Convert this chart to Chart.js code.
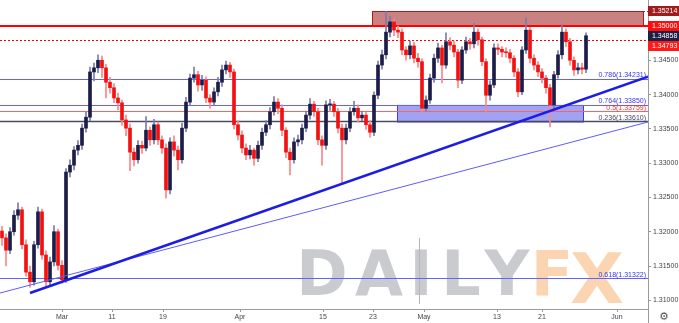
<!DOCTYPE html>
<html>
<head>
<meta charset="utf-8">
<script src="https://cdn.jsdelivr.net/npm/chart.js@4.4.1/dist/chart.umd.min.js"></script>
<style>
  html, body { margin: 0; padding: 0; background: #fff; }
</style>
</head>
<body>
<canvas id="myChart" width="679" height="323"></canvas>
<script>
// half-day candles, price path
const firstOpen = 1.3201;
const closes = [
    1.3191, 1.3173, 1.3200, 1.3224, 1.3232, 1.3181, 1.3141, 1.3127, 1.3181, 1.3229,
    1.3166, 1.3127, 1.3156, 1.3200, 1.3151, 1.3130, 1.3287, 1.3297, 1.3319, 1.3326,
    1.3351, 1.3367, 1.3433, 1.3439, 1.3450, 1.3439, 1.3418, 1.3410, 1.3395, 1.3388,
    1.3363, 1.3351, 1.3316, 1.3305, 1.3326, 1.3322, 1.3348, 1.3334, 1.3356, 1.3334,
    1.3322, 1.3261, 1.3331, 1.3319, 1.3305, 1.3351, 1.3389, 1.3424, 1.3429, 1.3414,
    1.3421, 1.3395, 1.3389, 1.3404, 1.3418, 1.3436, 1.3443, 1.3433, 1.3356, 1.3341,
    1.3322, 1.3312, 1.3319, 1.3307, 1.3326, 1.3345, 1.3356, 1.3375, 1.3389, 1.3380,
    1.3348, 1.3316, 1.3305, 1.3331, 1.3334, 1.3351, 1.3370, 1.3386, 1.3375, 1.3334,
    1.3326, 1.3385, 1.3386, 1.3375, 1.3351, 1.3334, 1.3351, 1.3375, 1.3380, 1.3366,
    1.3370, 1.3356, 1.3345, 1.3399, 1.3443, 1.3458, 1.3491, 1.3506, 1.3494, 1.3491,
    1.3465, 1.3458, 1.3471, 1.3453, 1.3448, 1.3380, 1.3392, 1.3424, 1.3453, 1.3468,
    1.3443, 1.3477, 1.3472, 1.3462, 1.3421, 1.3465, 1.3477, 1.3474, 1.3491, 1.3480,
    1.3448, 1.3399, 1.3414, 1.3468, 1.3466, 1.3462, 1.3461, 1.3453, 1.3433, 1.3404,
    1.3465, 1.3494, 1.3453, 1.3443, 1.3433, 1.3424, 1.3410, 1.3385, 1.3429, 1.3458,
    1.3491, 1.3477, 1.3450, 1.3436, 1.3439, 1.3437, 1.34858
];
const highs = [
    1.3208, 1.3197, 1.3206, 1.3231, 1.3242, 1.3236, 1.3188, 1.3150, 1.3186, 1.3236,
    1.3233, 1.3172, 1.3163, 1.3209, 1.3204, 1.3158, 1.3292, 1.3305, 1.3324, 1.3333,
    1.3357, 1.3374, 1.3440, 1.3446, 1.3458, 1.3456, 1.3444, 1.3425, 1.3416, 1.3402,
    1.3392, 1.3370, 1.3357, 1.3322, 1.3333, 1.3332, 1.3368, 1.3353, 1.3364, 1.3360,
    1.3340, 1.3328, 1.3337, 1.3340, 1.3325, 1.3358, 1.3396, 1.3430, 1.3440, 1.3434,
    1.3428, 1.3426, 1.3400, 1.3410, 1.3425, 1.3443, 1.3449, 1.3447, 1.3437, 1.3362,
    1.3347, 1.3328, 1.3326, 1.3322, 1.3332, 1.3351, 1.3362, 1.3381, 1.3397, 1.3394,
    1.3385, 1.3352, 1.3322, 1.3337, 1.3341, 1.3357, 1.3376, 1.3394, 1.3390, 1.3380,
    1.3340, 1.3391, 1.3393, 1.3390, 1.3380, 1.3357, 1.3357, 1.3381, 1.3390, 1.3385,
    1.3376, 1.3374, 1.3362, 1.3404, 1.3449, 1.3465, 1.3521, 1.3514, 1.3510, 1.3500,
    1.3496, 1.3470, 1.3478, 1.3476, 1.3460, 1.3452, 1.3398, 1.3430, 1.3459, 1.3475,
    1.3472, 1.3490, 1.3483, 1.3478, 1.3466, 1.3470, 1.3484, 1.3482, 1.3504, 1.3496,
    1.3484, 1.3452, 1.3420, 1.3474, 1.3474, 1.3470, 1.3468, 1.3466, 1.3457, 1.3438,
    1.3470, 1.3512, 1.3498, 1.3458, 1.3448, 1.3438, 1.3428, 1.3415, 1.3434, 1.3464,
    1.3502, 1.3496, 1.3482, 1.3455, 1.3446, 1.3446, 1.3490
];
const lows = [
    1.3180, 1.3150, 1.3168, 1.3195, 1.3218, 1.3175, 1.3135, 1.3119, 1.3122, 1.3176,
    1.3160, 1.3119, 1.3121, 1.3150, 1.3144, 1.3125, 1.3126, 1.3280, 1.3290, 1.3312,
    1.3320, 1.3345, 1.3362, 1.3420, 1.3432, 1.3425, 1.3395, 1.3402, 1.3388, 1.3378,
    1.3355, 1.3340, 1.3289, 1.3296, 1.3300, 1.3314, 1.3318, 1.3326, 1.3328, 1.3327,
    1.3314, 1.3249, 1.3255, 1.3310, 1.3290, 1.3300, 1.3346, 1.3384, 1.3418, 1.3405,
    1.3406, 1.3388, 1.3380, 1.3384, 1.3398, 1.3412, 1.3430, 1.3425, 1.3350, 1.3334,
    1.3315, 1.3305, 1.3306, 1.3297, 1.3302, 1.3320, 1.3340, 1.3350, 1.3370, 1.3372,
    1.3340, 1.3308, 1.3283, 1.3300, 1.3325, 1.3328, 1.3346, 1.3364, 1.3368, 1.3327,
    1.3297, 1.3320, 1.3377, 1.3368, 1.3344, 1.3271, 1.3328, 1.3346, 1.3370, 1.3360,
    1.3362, 1.3349, 1.3338, 1.3340, 1.3394, 1.3437, 1.3452, 1.3484, 1.3486, 1.3483,
    1.3458, 1.3450, 1.3452, 1.3446, 1.3440, 1.3374, 1.3376, 1.3387, 1.3418, 1.3447,
    1.3417, 1.3438, 1.3465, 1.3455, 1.3410, 1.3416, 1.3460, 1.3466, 1.3468, 1.3472,
    1.3442, 1.3374, 1.3392, 1.3410, 1.3458, 1.3455, 1.3454, 1.3446, 1.3426, 1.3397,
    1.3400, 1.3460, 1.3446, 1.3436, 1.3426, 1.3417, 1.3402, 1.3353, 1.3380, 1.3424,
    1.3452, 1.3470, 1.3443, 1.3428, 1.3430, 1.3430, 1.3432
];

// x axis runs in candle slots; date labels sit between slots
const xTickSlots = [15, 27.5, 40.25, 59.5, 80.25, 92.75, 105.5, 123.75, 135, 153.75];
const xTickLabels = ['Mar', '11', '19', 'Apr', '15', '23', 'May', '13', '21', 'Jun'];
const yTicks = [1.31, 1.315, 1.32, 1.325, 1.33, 1.335, 1.34, 1.345, 1.35];

const fibRatios = ['0.786', '0.764', '0.5', '0.236', '0.618'];
const fibPrices = [1.34231, 1.33850, 1.33759, 1.33610, 1.31322];

const resistance = 1.35000;
const resistanceDotted = 1.34793;
const resZonePrices = [1.35000, 1.35214];
const resZoneSlots = [92.5, 160.25];
const supZonePrices = [1.33610, 1.33850];
const supZoneSlots = [98.75, 145.25];

const trendMainSlots = [7, 161.5];
const trendMainPrices = [1.31106, 1.34260];
const trendThinSlots = [-0.5, 161.5];
const trendThinPrices = [1.31106, 1.33600];

const opens = closes.map((c, i) => i === 0 ? firstOpen : closes[i - 1]);
const isUp = i => closes[i] >= opens[i];

const FONT = '"Liberation Sans", Arial, sans-serif';

function hLine(ctx, a, py, color, width) {
    ctx.strokeStyle = color;
    ctx.lineWidth = width;
    ctx.beginPath();
    ctx.moveTo(a.left, py);
    ctx.lineTo(a.right, py);
    ctx.stroke();
}

const overlay = {
    id: 'overlay',
    beforeDatasetsDraw(chart) {
        const { ctx, chartArea: a, scales: { x, y } } = chart;
        ctx.save();
        ctx.beginPath();
        ctx.rect(a.left, a.top, a.width, a.height);
        ctx.clip();

        // watermark
        ctx.font = 'bold 62px "DejaVu Sans"';
        ctx.textAlign = 'center';
        ctx.textBaseline = 'alphabetic';
        const letters = [['D', 322], ['A', 379], ['I', 421], ['L', 461], ['Y', 507]];
        ctx.fillStyle = '#c9cbcf';
        letters.forEach(([t, px]) => ctx.fillText(t, px, 295));
        ctx.strokeStyle = '#b4b6ba';
        ctx.lineWidth = 1;
        ctx.beginPath();
        ctx.moveTo(419.5, 238);
        ctx.lineTo(419.5, 304);
        ctx.stroke();
        ctx.fillStyle = 'rgba(245,150,60,0.4)';
        ctx.fillText('F', 552, 295);
        ctx.font = 'bold 70px "DejaVu Sans"';
        ctx.fillText('X', 597, 303);

        // resistance zone
        const rx1 = x.getPixelForValue(resZoneSlots[0]);
        const rx2 = x.getPixelForValue(resZoneSlots[1]);
        const ry1 = y.getPixelForValue(resZonePrices[1]);
        const ry2 = y.getPixelForValue(resZonePrices[0]);
        ctx.fillStyle = 'rgba(160,30,30,0.56)';
        ctx.fillRect(rx1, ry1, rx2 - rx1, ry2 - ry1);
        ctx.strokeStyle = '#a02020';
        ctx.lineWidth = 1;
        ctx.strokeRect(Math.round(rx1) + 0.5, Math.round(ry1) + 0.5, rx2 - rx1, ry2 - ry1);
        ctx.setLineDash([3, 2]);
        ctx.beginPath();
        ctx.moveTo(rx1, Math.round(ry1) + 0.5);
        ctx.lineTo(a.right, Math.round(ry1) + 0.5);
        ctx.stroke();
        ctx.setLineDash([]);

        // support zone
        const sx1 = x.getPixelForValue(supZoneSlots[0]);
        const sx2 = x.getPixelForValue(supZoneSlots[1]);
        const sy1 = y.getPixelForValue(supZonePrices[1]);
        const sy2 = y.getPixelForValue(supZonePrices[0]);
        ctx.fillStyle = 'rgba(60,60,230,0.48)';
        ctx.fillRect(sx1, sy1, sx2 - sx1, sy2 - sy1);
        ctx.strokeStyle = '#3c3ce6';
        ctx.strokeRect(Math.round(sx1) + 0.5, Math.round(sy1) + 0.5, sx2 - sx1, sy2 - sy1);

        // fib lines
        const fibColors = ['#6262ff', '#6262ff', '#ff6060', '#4a4a66', '#6262ff'];
        const fibWidths = [1, 1, 1, 1.6, 1];
        fibPrices.forEach((p, i) => {
            hLine(ctx, a, Math.round(y.getPixelForValue(p)) + 0.5, fibColors[i], fibWidths[i]);
        });

        // 1.35 line and dotted line
        hLine(ctx, a, y.getPixelForValue(resistance), '#ff0000', 2);
        ctx.setLineDash([2, 2]);
        hLine(ctx, a, Math.round(y.getPixelForValue(resistanceDotted)) + 0.5, '#ff0000', 1);
        ctx.setLineDash([]);
        ctx.restore();
    },
    afterDatasetsDraw(chart) {
        const { ctx, chartArea: a, scales: { y } } = chart;
        const labelColors = ['#3535f0', '#3535f0', '#ff3030', '#45455f', '#3535f0'];
        ctx.save();
        ctx.font = '7px ' + FONT;
        ctx.textAlign = 'right';
        ctx.textBaseline = 'alphabetic';
        fibPrices.forEach((p, i) => {
            const py = y.getPixelForValue(p);
            ctx.fillStyle = labelColors[i];
            ctx.fillText(fibRatios[i] + '(' + p.toFixed(5) + ')', a.right - 2, py - 1.5);
        });
        ctx.restore();
    },
    afterDraw(chart) {
        const { ctx, chartArea: a, scales: { y } } = chart;
        ctx.save();
        // right axis continues down to the bottom
        ctx.strokeStyle = '#9a9a9a';
        ctx.lineWidth = 1;
        ctx.beginPath();
        ctx.moveTo(a.right + 0.5, a.bottom);
        ctx.lineTo(a.right + 0.5, chart.height);
        ctx.stroke();

        // price tags
        const tagPrices = [resZonePrices[1], resistance, closes[closes.length - 1], resistanceDotted];
        const tagColors = ['#9e1c1c', '#ff0d0d', '#1f1f45', '#ff1a1a'];
        let lastBottom = -Infinity;
        ctx.font = '7px ' + FONT;
        ctx.textAlign = 'left';
        ctx.textBaseline = 'middle';
        tagPrices.forEach((p, i) => {
            let cy = y.getPixelForValue(p);
            if (cy - 5 < lastBottom) cy = lastBottom + 5;
            lastBottom = cy + 5;
            ctx.fillStyle = tagColors[i];
            ctx.fillRect(a.right, Math.round(cy - 5), chart.width - a.right, 10);
            ctx.fillStyle = '#ffffff';
            ctx.fillText(p.toFixed(5), a.right + 4, Math.round(cy) + 0.5);
        });

        // settings gear
        ctx.fillStyle = '#555';
        ctx.font = '11px "DejaVu Sans"';
        ctx.textAlign = 'center';
        ctx.fillText('\u2699', 664, 317);
        ctx.restore();
    }
};

const ctx = document.getElementById('myChart').getContext('2d');
new Chart(ctx, {
    type: 'bar',
    data: {
        datasets: [
            {
                type: 'line',
                label: 'Trendline',
                data: trendMainSlots.map((s, i) => ({ x: s, y: trendMainPrices[i] })),
                borderColor: '#1c1ce6',
                borderWidth: 2.5,
                pointRadius: 0,
                order: 0
            },
            {
                type: 'line',
                label: 'Trendline 2',
                data: trendThinSlots.map((s, i) => ({ x: s, y: trendThinPrices[i] })),
                borderColor: '#5c5cff',
                borderWidth: 1,
                pointRadius: 0,
                order: 0
            },
            {
                label: 'Body',
                data: closes.map((c, i) => ({ x: i, y: [opens[i], c] })),
                backgroundColor: c => isUp(c.dataIndex) ? '#1c1c48' : '#f51010',
                barThickness: 3,
                minBarLength: 1,
                grouped: false,
                order: 1
            },
            {
                label: 'Wick',
                data: closes.map((c, i) => ({ x: i, y: [lows[i], highs[i]] })),
                backgroundColor: c => isUp(c.dataIndex) ? '#7c7ca6' : '#ff8585',
                barThickness: 1,
                grouped: false,
                order: 2
            }
        ]
    },
    options: {
        responsive: false,
        animation: false,
        devicePixelRatio: 1,
        layout: { padding: 0 },
        plugins: { legend: { display: false }, tooltip: { enabled: false } },
        scales: {
            x: {
                type: 'linear',
                min: -0.5,
                max: 161.5,
                offset: false,
                grid: { offset: false, drawOnChartArea: false, tickLength: 3, color: '#9a9a9a' },
                border: { color: '#9a9a9a' },
                afterBuildTicks: s => { s.ticks = xTickSlots.map(v => ({ value: v })); },
                afterFit: s => { s.height = 14; s.paddingLeft = 0; s.paddingRight = 0; },
                ticks: {
                    autoSkip: false,
                    maxRotation: 0,
                    padding: 1,
                    color: '#444',
                    font: { size: 7, family: FONT },
                    callback: v => xTickLabels[xTickSlots.indexOf(v)]
                }
            },
            y: {
                position: 'right',
                min: 1.30873,
                max: 1.35379,
                grid: { drawOnChartArea: false, tickLength: 3, color: '#9a9a9a' },
                border: { color: '#9a9a9a' },
                afterBuildTicks: s => { s.ticks = yTicks.map(v => ({ value: v })); },
                afterFit: s => { s.width = 31; s.paddingTop = 0; s.paddingBottom = 0; },
                ticks: {
                    padding: 2,
                    color: '#444',
                    font: { size: 7, family: FONT },
                    callback: v => v.toFixed(5)
                }
            }
        }
    },
    plugins: [overlay]
});
</script>
</body>
</html>
